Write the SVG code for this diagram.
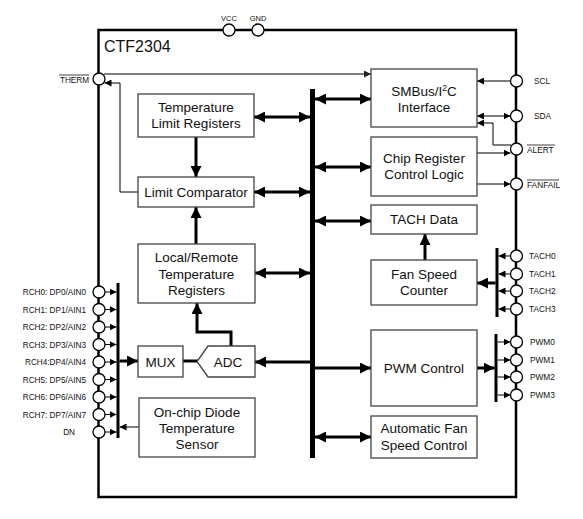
<svg xmlns="http://www.w3.org/2000/svg" width="583" height="519" viewBox="0 0 583 519">
<defs>
<marker id="ah" markerUnits="userSpaceOnUse" viewBox="0 0 11 11" refX="11" refY="5.5" markerWidth="11" markerHeight="11" orient="auto-start-reverse"><path d="M0,0 L11,5.5 L0,11 z" fill="#000"/></marker>
<marker id="as" markerUnits="userSpaceOnUse" viewBox="0 0 7 7" refX="7" refY="3.5" markerWidth="7" markerHeight="7" orient="auto-start-reverse"><path d="M0,0 L7,3.5 L0,7 z" fill="#000"/></marker>
<marker id="ag" markerUnits="userSpaceOnUse" viewBox="0 0 7 7" refX="7" refY="3.5" markerWidth="7" markerHeight="7" orient="auto"><path d="M0,0 L7,3.5 L0,7 z" fill="#222"/></marker>
</defs>
<style>
text{font-family:"Liberation Sans",Arial,sans-serif;fill:#111}
.box{fill:#fff;stroke:#444;stroke-width:1.3}
.bt{font-size:13.5px;text-anchor:middle}
.pl{font-size:8.3px}
.pe{font-size:8.2px;text-anchor:end}
.pin{fill:#fff;stroke:#000;stroke-width:1.3}
.thick{fill:none;stroke:#000;stroke-width:3}
.thin{fill:none;stroke:#000;stroke-width:1}
.bar{fill:#000}
</style>
<rect width="583" height="519" fill="#fff"/>

<g id="frame">
<rect x="98.5" y="30" width="417.5" height="467" fill="none" stroke="#000" stroke-width="2.5"/>
<text x="104" y="52" style="font-size:16px">CTF2304</text>
</g>

<g id="connectors">
<line x1="104" y1="74" x2="371" y2="74" stroke="#555" stroke-width="1.6" marker-end="url(#ag)"/>
<path class="thin" d="M138,192 H120 V83 H104.5" marker-end="url(#as)"/>
<!-- bus -->
<rect class="bar" x="310" y="89" width="5" height="369"/>
<rect class="bar" x="116.5" y="283" width="3" height="155"/>
<rect class="bar" x="495.5" y="248" width="3" height="69"/>
<rect class="bar" x="494.5" y="334" width="3" height="68"/>
<!-- thick -->
<line class="thick" x1="254" y1="117" x2="310" y2="117" marker-start="url(#ah)" marker-end="url(#ah)"/>
<line class="thick" x1="254" y1="192" x2="310" y2="192" marker-start="url(#ah)" marker-end="url(#ah)"/>
<line class="thick" x1="255" y1="273" x2="310" y2="273" marker-start="url(#ah)" marker-end="url(#ah)"/>
<line class="thick" x1="310" y1="362" x2="255" y2="362" marker-end="url(#ah)"/>
<line class="thick" x1="315" y1="99" x2="371" y2="99" marker-start="url(#ah)" marker-end="url(#ah)"/>
<line class="thick" x1="315" y1="167" x2="371" y2="167" marker-start="url(#ah)" marker-end="url(#ah)"/>
<line class="thick" x1="315" y1="221" x2="371" y2="221" marker-start="url(#ah)" marker-end="url(#ah)"/>
<line class="thick" x1="315" y1="368" x2="371" y2="368" marker-end="url(#ah)"/>
<line class="thick" x1="315" y1="437" x2="371" y2="437" marker-start="url(#ah)" marker-end="url(#ah)"/>
<line class="thick" x1="196" y1="137" x2="196" y2="177" marker-end="url(#ah)"/>
<line class="thick" x1="196" y1="244" x2="196" y2="207" marker-end="url(#ah)"/>
<path class="thick" d="M231,346 V332 H197 V303" marker-end="url(#ah)"/>
<line class="thick" x1="183" y1="361" x2="198" y2="361"/>
<line class="thick" x1="119.5" y1="361" x2="138" y2="361" marker-end="url(#ah)"/>
<line class="thick" x1="425" y1="260" x2="425" y2="234" marker-end="url(#ah)"/>
<line class="thick" x1="495.5" y1="283" x2="477" y2="283" marker-end="url(#ah)"/>
<line class="thick" x1="477" y1="368" x2="494.5" y2="368" marker-end="url(#ah)"/>
<!-- thin right -->
<line class="thin" x1="510.5" y1="81" x2="477" y2="81" marker-end="url(#as)"/>
<line class="thin" x1="477" y1="116" x2="510.5" y2="116" marker-start="url(#as)" marker-end="url(#as)"/>
<path class="thin" d="M511,145 H493 V123 H477" marker-end="url(#as)"/>
<line class="thin" x1="477" y1="153" x2="510.5" y2="153" marker-end="url(#as)"/>
<line class="thin" x1="477" y1="184" x2="510.5" y2="184" marker-end="url(#as)"/>
<line class="thin" x1="511" y1="256" x2="498.5" y2="256" marker-end="url(#as)"/>
<line class="thin" x1="511" y1="274" x2="498.5" y2="274" marker-end="url(#as)"/>
<line class="thin" x1="511" y1="291" x2="498.5" y2="291" marker-end="url(#as)"/>
<line class="thin" x1="511" y1="309" x2="498.5" y2="309" marker-end="url(#as)"/>
<line class="thin" x1="497.5" y1="342" x2="510.5" y2="342" marker-end="url(#as)"/>
<line class="thin" x1="497.5" y1="360" x2="510.5" y2="360" marker-end="url(#as)"/>
<line class="thin" x1="497.5" y1="377" x2="510.5" y2="377" marker-end="url(#as)"/>
<line class="thin" x1="497.5" y1="395" x2="510.5" y2="395" marker-end="url(#as)"/>
<!-- thin left -->
<line class="thin" x1="105" y1="292" x2="116.5" y2="292" marker-end="url(#as)"/>
<line class="thin" x1="105" y1="309.5" x2="116.5" y2="309.5" marker-end="url(#as)"/>
<line class="thin" x1="105" y1="327" x2="116.5" y2="327" marker-end="url(#as)"/>
<line class="thin" x1="105" y1="344.5" x2="116.5" y2="344.5" marker-end="url(#as)"/>
<line class="thin" x1="105" y1="362" x2="116.5" y2="362" marker-end="url(#as)"/>
<line class="thin" x1="105" y1="379.5" x2="116.5" y2="379.5" marker-end="url(#as)"/>
<line class="thin" x1="105" y1="397" x2="116.5" y2="397" marker-end="url(#as)"/>
<line class="thin" x1="105" y1="414.5" x2="116.5" y2="414.5" marker-end="url(#as)"/>
<line class="thin" x1="105" y1="432" x2="116.5" y2="432" marker-end="url(#as)"/>
<line class="thin" x1="139" y1="427" x2="119.5" y2="427" marker-end="url(#as)"/>
</g>

<g id="tlr"><rect class="box" x="138" y="94" width="116" height="43"/><text class="bt" x="196" y="112">Temperature</text><text class="bt" x="196" y="128">Limit Registers</text></g>
<g id="lc"><rect class="box" x="138" y="177" width="116" height="30"/><text class="bt" x="196" y="197">Limit Comparator</text></g>
<g id="lrtr"><rect class="box" x="138" y="244" width="117" height="59"/><text class="bt" x="196.5" y="262">Local/Remote</text><text class="bt" x="196.5" y="278.5">Temperature</text><text class="bt" x="196.5" y="295">Registers</text></g>
<g id="mux"><rect class="box" x="138" y="346" width="45" height="31"/><text class="bt" x="160.5" y="367">MUX</text></g>
<g id="adc"><path class="box" d="M208,346 H255 V377 H208 L197,361.5 Z"/><text class="bt" x="228" y="367">ADC</text></g>
<g id="diode"><rect class="box" x="139" y="398" width="116" height="59"/><text class="bt" x="197" y="417">On-chip Diode</text><text class="bt" x="197" y="433">Temperature</text><text class="bt" x="197" y="449">Sensor</text></g>
<g id="smbus"><rect class="box" x="371" y="69" width="106" height="58"/><text class="bt" x="424" y="96">SMBus/I<tspan dy="-5" style="font-size:8.5px">2</tspan><tspan dy="5">C</tspan></text><text class="bt" x="424" y="112">Interface</text></g>
<g id="crcl"><rect class="box" x="371" y="137" width="106" height="59"/><text class="bt" x="424" y="163">Chip Register</text><text class="bt" x="424" y="179">Control Logic</text></g>
<g id="tach"><rect class="box" x="371" y="205" width="106" height="29"/><text class="bt" x="424" y="224">TACH Data</text></g>
<g id="fsc"><rect class="box" x="371" y="260" width="106" height="45"/><text class="bt" x="424" y="279">Fan Speed</text><text class="bt" x="424" y="295">Counter</text></g>
<g id="pwm"><rect class="box" x="371" y="330" width="106" height="76"/><text class="bt" x="424" y="373">PWM Control</text></g>
<g id="afsc"><rect class="box" x="371" y="416" width="106" height="42"/><text class="bt" x="424" y="433">Automatic Fan</text><text class="bt" x="424" y="450">Speed Control</text></g>

<g id="pins">
<circle class="pin" cx="229" cy="30" r="6"/><circle class="pin" cx="258" cy="30" r="6"/>
<text class="pl" x="229" y="21" text-anchor="middle" style="font-size:7.5px">VCC</text>
<text class="pl" x="258" y="21" text-anchor="middle" style="font-size:7.5px">GND</text>
<circle class="pin" cx="99" cy="79" r="6"/>
<text class="pe" x="89" y="83">THERM</text><line x1="59" y1="75" x2="89" y2="75" stroke="#111" stroke-width="0.8"/>
<circle class="pin" cx="516.5" cy="81" r="6"/><text class="pl" x="534" y="84">SCL</text>
<circle class="pin" cx="516.5" cy="116" r="6"/><text class="pl" x="534" y="119">SDA</text>
<circle class="pin" cx="516.5" cy="149" r="6"/><text class="pl" x="527" y="153">ALERT</text><line x1="527" y1="145" x2="555" y2="145" stroke="#111" stroke-width="0.8"/>
<circle class="pin" cx="516.5" cy="184" r="6"/><text class="pl" x="527" y="188">FANFAIL</text><line x1="527" y1="180" x2="559" y2="180" stroke="#111" stroke-width="0.8"/>
<circle class="pin" cx="516.5" cy="256" r="6"/><text class="pl" x="529" y="259">TACH0</text>
<circle class="pin" cx="516.5" cy="274" r="6"/><text class="pl" x="529" y="277">TACH1</text>
<circle class="pin" cx="516.5" cy="291" r="6"/><text class="pl" x="529" y="294">TACH2</text>
<circle class="pin" cx="516.5" cy="309" r="6"/><text class="pl" x="529" y="312">TACH3</text>
<circle class="pin" cx="516.5" cy="342" r="6"/><text class="pl" x="530" y="345">PWM0</text>
<circle class="pin" cx="516.5" cy="360" r="6"/><text class="pl" x="530" y="363">PWM1</text>
<circle class="pin" cx="516.5" cy="377" r="6"/><text class="pl" x="530" y="380">PWM2</text>
<circle class="pin" cx="516.5" cy="395" r="6"/><text class="pl" x="530" y="398">PWM3</text>
<circle class="pin" cx="99" cy="292" r="6"/><text class="pe" x="86" y="295">RCH0: DP0/AIN0</text>
<circle class="pin" cx="99" cy="309.5" r="6"/><text class="pe" x="86" y="312.5">RCH1: DP1/AIN1</text>
<circle class="pin" cx="99" cy="327" r="6"/><text class="pe" x="86" y="330">RCH2: DP2/AIN2</text>
<circle class="pin" cx="99" cy="344.5" r="6"/><text class="pe" x="86" y="347.5">RCH3: DP3/AIN3</text>
<circle class="pin" cx="99" cy="362" r="6"/><text class="pe" x="86" y="365">RCH4:DP4/AIN4</text>
<circle class="pin" cx="99" cy="379.5" r="6"/><text class="pe" x="86" y="382.5">RCH5: DP5/AIN5</text>
<circle class="pin" cx="99" cy="397" r="6"/><text class="pe" x="86" y="400">RCH6: DP6/AIN6</text>
<circle class="pin" cx="99" cy="414.5" r="6"/><text class="pe" x="86" y="417.5">RCH7: DP7/AIN7</text>
<circle class="pin" cx="99" cy="432" r="6"/><text class="pe" x="75" y="435">DN</text>
</g>
</svg>
